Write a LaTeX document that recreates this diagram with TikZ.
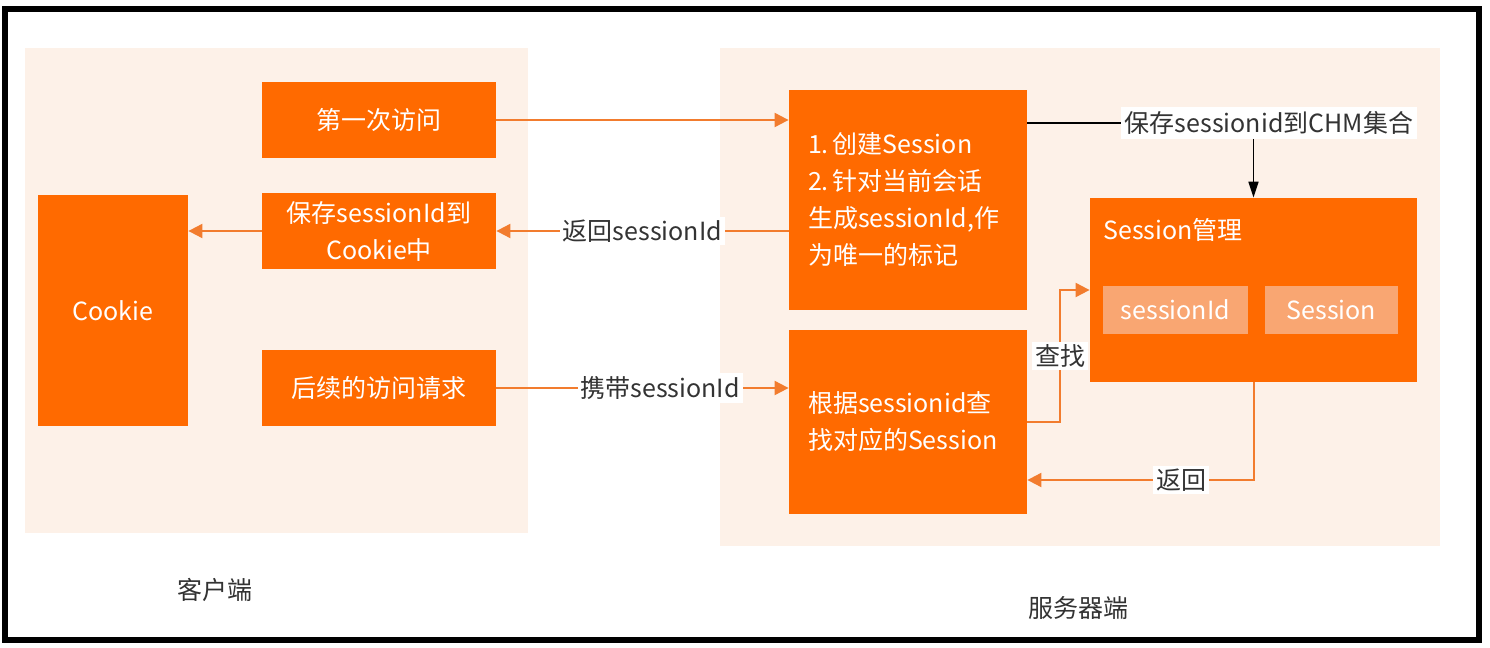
\documentclass[tikz,border=0pt]{standalone}
\usepackage{fontspec}
\setmainfont{Noto Sans CJK SC}
\usepackage{tikz}
\usetikzlibrary{arrows.meta,positioning,calc}
\definecolor{sessorange}{HTML}{FF6A00}
\definecolor{sessline}{HTML}{F27C2E}
\definecolor{sesslight}{HTML}{F9A672}
\definecolor{sesspanel}{HTML}{FDF1E8}
\definecolor{sesstext}{HTML}{333333}

\begin{document}
\begin{tikzpicture}[x=0.5pt,y=-0.5pt,font=\fontsize{12.5}{18.5}\selectfont,
  obox/.style={fill=sessorange,text=white,inner sep=0,align=center},
  ibox/.style={fill=sesslight,text=white,inner sep=0,minimum height=24pt},
  flow/.style={-{Triangle[length=7pt,width=7pt]},sessline,line width=1pt},
  lbl/.style={fill=white,text=sesstext,inner sep=1.5pt}]
  \useasboundingbox (0,0) rectangle (1490,648);
  \fill[sesspanel] (25,48) rectangle (528,533);
  \fill[sesspanel] (720,48) rectangle (1440,546);
  \draw[line width=3pt] (5,9) rectangle (1479,640);

  \node[obox,minimum width=75pt,minimum height=115.5pt] (cookie) at (113,310.5) {Cookie};
  \foreach \nm/\yy/\txt in {first/120/第一次访问, save/231/{保存sessionId到\\Cookie中}, later/388/后续的访问请求}{
      \node[obox,minimum width=117pt,minimum height=38pt] (\nm) at (379,\yy) {\txt};
  }
  \node[obox,align=left,text width=100pt,inner xsep=9.5pt,minimum height=110pt] (create) at (908,200)
      {1.\hspace{2pt}创建Session\\2.\hspace{2pt}针对当前会话\\生成sessionId,作\\为唯一的标记};
  \node[obox,align=left,text width=100pt,inner xsep=9.5pt,minimum height=92pt] (lookup) at (908,422)
      {根据sessionid查\\找对应的Session};
  \node[obox,minimum width=163.5pt,minimum height=92pt] (mgr) at (1253.5,290) {};
  \node[text=white,anchor=west,inner sep=0] (mgrtitle) at (1103,230) {Session管理};
  \node[ibox,minimum width=72.5pt] (sid) at (1175.5,310) {sessionId};
  \node[ibox,minimum width=66.5pt] (sess) at (1331.5,310) {Session};

  \draw[flow] (first.east) -- (first.east -| create.west);
  \draw[flow] (save.east -| create.west) -- node[lbl,pos=0.5]{返回sessionId} (save.east);
  \draw[flow] (save.west) -- (save.west -| cookie.east);
  \draw[flow] (later.east) -- node[lbl,pos=0.56]{携带sessionId} (later.east -| lookup.west);

  \node[lbl,inner sep=2pt] (chm) at (1269,123) {保存sessionid到CHM集合};
  \draw[black,line width=0.8pt] (create.east |- chm.west) -- (chm.west);
  \draw[-{Triangle[length=8pt,width=5pt]},black,line width=0.8pt] (chm.south -| mgr.north) -- (mgr.north);

  \draw[flow] (lookup.east) -- ++(33,0) |- node[lbl,pos=0.25]{查找} (mgr.west);
  \draw[flow] (mgr.south) |- node[lbl,pos=0.66]{返回} ([yshift=-29pt]lookup.east);

  \node[text=sesstext] (client) at (215,590) {客户端};
  \node[text=sesstext] (server) at (1078,608) {服务器端};
\end{tikzpicture}
\end{document}
